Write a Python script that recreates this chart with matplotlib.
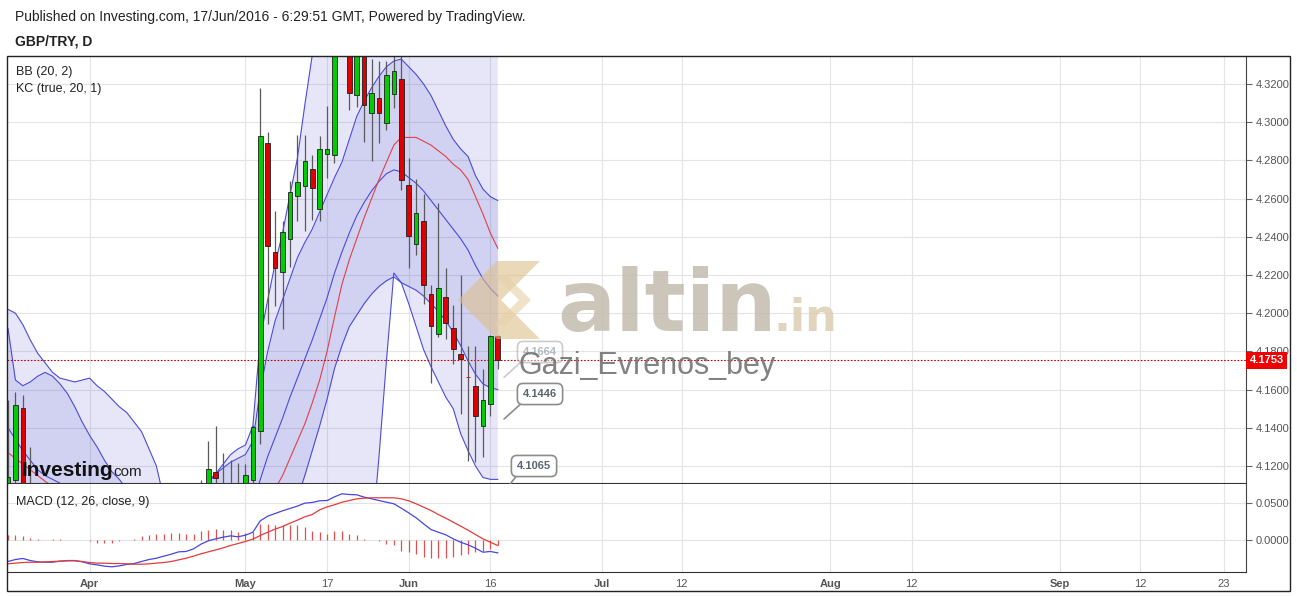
import numpy as np
import matplotlib.pyplot as plt
from matplotlib.patches import Rectangle, Polygon
from matplotlib.transforms import offset_copy

plt.rcParams['font.family'] = ['Liberation Sans', 'DejaVu Sans']

W, H = 1297, 596

# GBP/TRY daily bars, index 0 = 17 Mar 2016 ... 66 = 17 Jun 2016
opens = [4.105, 4.1127, 4.1502, 4.092, 4.100, 4.085, 4.095, 4.080, 4.070, 4.078,
         4.065, 4.060, 4.055, 4.045, 4.050, 4.040, 4.048, 4.055, 4.062, 4.070,
         4.068, 4.075, 4.080, 4.085, 4.090, 4.095, 4.098, 4.105, 4.117, 4.107,
         4.108, 4.104, 4.105, 4.1125, 4.1383, 4.2891, 4.2318, 4.2215, 4.2389, 4.2614,
         4.2666, 4.2755, 4.2546, 4.2834, 4.283, 4.345, 4.345, 4.314, 4.340, 4.3048,
         4.3127, 4.2996, 4.3148, 4.3226, 4.267, 4.2363, 4.2483, 4.2101, 4.1892, 4.2086,
         4.1924, 4.1784, 4.1667, 4.162, 4.141, 4.1525, 4.1881]
highs = [4.1546, 4.1589, 4.1572, 4.130, 4.104, 4.098, 4.100, 4.088, 4.085, 4.082,
         4.072, 4.068, 4.062, 4.058, 4.055, 4.052, 4.060, 4.066, 4.075, 4.076,
         4.080, 4.085, 4.090, 4.094, 4.098, 4.104, 4.1127, 4.1331, 4.141, 4.127,
         4.1232, 4.1215, 4.1212, 4.1415, 4.3179, 4.2949, 4.2534, 4.2482, 4.2694, 4.2935,
         4.2935, 4.283, 4.293, 4.3083, 4.350, 4.370, 4.352, 4.350, 4.345, 4.333,
         4.332, 4.3319, 4.336, 4.338, 4.2813, 4.270, 4.2625, 4.215, 4.2578, 4.2237,
         4.2042, 4.220, 4.1828, 4.183, 4.1706, 4.1885, 4.1885]
lows = [4.100, 4.108, 4.090, 4.085, 4.080, 4.078, 4.075, 4.065, 4.066, 4.060,
        4.055, 4.050, 4.040, 4.040, 4.035, 4.036, 4.044, 4.050, 4.058, 4.062,
        4.064, 4.070, 4.076, 4.080, 4.085, 4.090, 4.095, 4.100, 4.105, 4.100,
        4.098, 4.100, 4.103, 4.1105, 4.1313, 4.1941, 4.2037, 4.1915, 4.2244, 4.2482,
        4.2429, 4.2487, 4.2482, 4.2708, 4.2787, 4.338, 4.3066, 4.3081, 4.2897, 4.2795,
        4.289, 4.2961, 4.3075, 4.2647, 4.2238, 4.2307, 4.2046, 4.1636, 4.1875, 4.1863,
        4.1732, 4.1474, 4.1226, 4.122, 4.1249, 4.146, 4.171]
closes = [4.1142, 4.152, 4.095, 4.100, 4.085, 4.095, 4.080, 4.070, 4.078, 4.065,
          4.060, 4.055, 4.045, 4.050, 4.040, 4.048, 4.055, 4.062, 4.070, 4.068,
          4.075, 4.080, 4.085, 4.090, 4.095, 4.100, 4.104, 4.1183, 4.1135, 4.109,
          4.104, 4.106, 4.1153, 4.1406, 4.293, 4.2351, 4.2236, 4.2426, 4.2632, 4.2689,
          4.2797, 4.2654, 4.286, 4.286, 4.345, 4.360, 4.3153, 4.340, 4.3088, 4.3153,
          4.3048, 4.3245, 4.327, 4.2696, 4.2403, 4.2523, 4.2145, 4.1932, 4.2133, 4.195,
          4.1814, 4.1761, 4.1667, 4.146, 4.1546, 4.188, 4.1753]

# Bollinger Bands (20, 2)
bb_upper = [4.202, 4.200, 4.194, 4.186, 4.179, 4.174, 4.169, 4.166, 4.165, 4.164,
            4.165, 4.166, 4.162, 4.159, 4.155, 4.151, 4.148, 4.143, 4.138, 4.129,
            4.120, 4.103, 4.098, 4.098, 4.099, 4.102, 4.106, 4.111, 4.116, 4.121,
            4.126, 4.129, 4.131, 4.141, 4.187, 4.207, 4.226, 4.242, 4.262, 4.281,
            4.309, 4.335, 4.366, 4.390, 4.410, 4.430, 4.440, 4.445, 4.450, 4.440,
            4.415, 4.383, 4.355, 4.368, 4.379, 4.391, 4.399, 4.404, 4.406, 4.408,
            4.406, 4.413, 4.412, 4.402, 4.390, 4.371, 4.356]
bb_basis = [4.127, 4.124, 4.121, 4.118, 4.115, 4.112, 4.109, 4.106, 4.103, 4.100,
            4.097, 4.094, 4.091, 4.088, 4.085, 4.082, 4.079, 4.077, 4.075, 4.073,
            4.072, 4.071, 4.070, 4.069, 4.069, 4.070, 4.071, 4.073, 4.075, 4.077,
            4.079, 4.081, 4.083, 4.085, 4.095, 4.102, 4.108, 4.115, 4.124, 4.133,
            4.142, 4.153, 4.165, 4.180, 4.198, 4.215, 4.228, 4.239, 4.250, 4.260,
            4.270, 4.279, 4.288, 4.292, 4.292, 4.292, 4.290, 4.288, 4.285, 4.282,
            4.278, 4.275, 4.270, 4.261, 4.252, 4.242, 4.234]
bb_lower = [4.052, 4.049, 4.047, 4.045, 4.043, 4.040, 4.038, 4.036, 4.034, 4.032,
            4.030, 4.028, 4.027, 4.026, 4.025, 4.025, 4.026, 4.027, 4.028, 4.030,
            4.032, 4.034, 4.036, 4.040, 4.045, 4.050, 4.055, 4.060, 4.064, 4.066,
            4.068, 4.070, 4.071, 4.069, 4.020, 3.990, 3.970, 3.960, 3.955, 3.955,
            3.960, 3.965, 3.970, 3.980, 3.990, 4.000, 4.010, 4.030, 4.050, 4.080,
            4.125, 4.175, 4.221, 4.216, 4.205, 4.193, 4.181, 4.172, 4.164, 4.156,
            4.150, 4.137, 4.128, 4.120, 4.114, 4.113, 4.113]

# Keltner Channels (true, 20, 1)
kc_upper = [4.192, 4.165, 4.162, 4.164, 4.167, 4.169, 4.167, 4.163, 4.158, 4.151,
            4.143, 4.136, 4.130, 4.123, 4.117, 4.113, 4.108, 4.104, 4.100, 4.097,
            4.095, 4.095, 4.097, 4.099, 4.102, 4.105, 4.108, 4.112, 4.116, 4.119,
            4.122, 4.124, 4.126, 4.133, 4.160, 4.180, 4.196, 4.207, 4.218, 4.229,
            4.237, 4.244, 4.253, 4.262, 4.271, 4.279, 4.291, 4.303, 4.311, 4.318,
            4.324, 4.329, 4.332, 4.333, 4.329, 4.325, 4.320, 4.314, 4.306, 4.298,
            4.291, 4.286, 4.282, 4.272, 4.265, 4.261, 4.259]
kc_basis = [4.140, 4.134, 4.128, 4.123, 4.118, 4.115, 4.113, 4.111, 4.108, 4.105,
            4.102, 4.099, 4.096, 4.093, 4.090, 4.088, 4.086, 4.085, 4.084, 4.083,
            4.083, 4.083, 4.084, 4.085, 4.086, 4.087, 4.088, 4.090, 4.092, 4.093,
            4.094, 4.095, 4.096, 4.099, 4.113, 4.125, 4.135, 4.145, 4.156, 4.166,
            4.176, 4.186, 4.197, 4.208, 4.221, 4.232, 4.242, 4.251, 4.258, 4.264,
            4.269, 4.273, 4.275, 4.274, 4.271, 4.268, 4.264, 4.259, 4.254, 4.249,
            4.244, 4.239, 4.233, 4.225, 4.218, 4.213, 4.209]
kc_lower = [4.080, 4.090, 4.088, 4.085, 4.080, 4.075, 4.070, 4.066, 4.062, 4.058,
            4.055, 4.052, 4.050, 4.048, 4.047, 4.046, 4.046, 4.047, 4.048, 4.050,
            4.052, 4.054, 4.057, 4.060, 4.063, 4.066, 4.068, 4.070, 4.072, 4.074,
            4.075, 4.076, 4.077, 4.075, 4.070, 4.070, 4.075, 4.085, 4.094, 4.103,
            4.115, 4.128, 4.141, 4.155, 4.171, 4.183, 4.193, 4.199, 4.205, 4.210,
            4.214, 4.217, 4.219, 4.216, 4.214, 4.212, 4.209, 4.205, 4.201, 4.196,
            4.190, 4.183, 4.175, 4.168, 4.163, 4.161, 4.160]

# MACD (12, 26, close, 9)
macd_line = [-0.0301, -0.0274, -0.0260, -0.0288, -0.0306, -0.0311, -0.0311, -0.0297, -0.0288, -0.0288,
             -0.0306, -0.0333, -0.0347, -0.0365, -0.0374, -0.0361, -0.0342, -0.0329, -0.0301, -0.0274,
             -0.0256, -0.0228, -0.0201, -0.0169, -0.0164, -0.0128, -0.0064, -0.0018, 0.0009, 0.0032,
             0.0050, 0.0037, 0.0059, 0.0100, 0.0256, 0.0320, 0.0356, 0.0393, 0.0425, 0.0457,
             0.0498, 0.0507, 0.0530, 0.0534, 0.0584, 0.0626, 0.0616, 0.0612, 0.0580, 0.0557,
             0.0534, 0.0511, 0.0489, 0.0429, 0.0365, 0.0297, 0.0215, 0.0137, 0.0100, 0.0064,
             0.0009, -0.0037, -0.0073, -0.0119, -0.0174, -0.0164, -0.0183]
signal_line = [-0.0333, -0.0324, -0.0315, -0.0311, -0.0311, -0.0306, -0.0301, -0.0297, -0.0292, -0.0292,
               -0.0301, -0.0315, -0.0324, -0.0324, -0.0329, -0.0329, -0.0333, -0.0338, -0.0338, -0.0333,
               -0.0324, -0.0315, -0.0301, -0.0279, -0.0256, -0.0228, -0.0196, -0.0169, -0.0142, -0.0114,
               -0.0082, -0.0055, -0.0027, 0.0005, 0.0055, 0.0100, 0.0142, 0.0178, 0.0224, 0.0265,
               0.0311, 0.0342, 0.0406, 0.0447, 0.0475, 0.0511, 0.0534, 0.0557, 0.0566, 0.0571,
               0.0571, 0.0571, 0.0571, 0.0557, 0.0530, 0.0489, 0.0443, 0.0397, 0.0342, 0.0292,
               0.0237, 0.0183, 0.0128, 0.0068, 0.0009, -0.0037, -0.0082]
macd_hist = [0.0055, 0.0055, 0.0046, 0.0018, 0.0005, 0.0, 0.0005, 0.0005, 0.0, 0.0,
             -0.0009, -0.0018, -0.0046, -0.0046, -0.0046, -0.0018, 0.0, 0.0009, 0.0046, 0.0064,
             0.0073, 0.0082, 0.0091, 0.0091, 0.0082, 0.0082, 0.0110, 0.0128, 0.0137, 0.0128,
             0.0128, 0.0100, 0.0091, 0.0100, 0.0215, 0.0215, 0.0201, 0.0201, 0.0201, 0.0192,
             0.0174, 0.0123, 0.0096, 0.0082, 0.0110, 0.0110, 0.0073, 0.0055, 0.0009, -0.0005,
             -0.0027, -0.0055, -0.0082, -0.0155, -0.0174, -0.0205, -0.0233, -0.0247, -0.0256, -0.0251,
             -0.0242, -0.0219, -0.0201, -0.0174, -0.0164, -0.0128, -0.0082]

# x axis: bar slots, the empty future part runs one slot per calendar day
tick_pos = [11, 32, 43, 54, 65, 80.0, 90.8, 110.8, 121.8, 141.8, 152.6, 163.9]
tick_lbl = ['Apr', 'May', '17', 'Jun', '16', 'Jul', '12', 'Aug', '12', 'Sep', '12', '23']
months = ['Apr', 'May', 'Jun', 'Jul', 'Aug', 'Sep']

price_ticks = [4.12, 4.14, 4.16, 4.18, 4.20, 4.22, 4.24, 4.26, 4.28, 4.30, 4.32]
macd_ticks = [0.0, 0.05]
note_prices = [4.1664, 4.1446, 4.1065]


def box(l, t, r, b):  # pixel box -> figure fraction
    return [l / W, 1 - b / H, (r - l) / W, (b - t) / H]


fig = plt.figure(figsize=(W / 100, H / 100), dpi=100)
fig.patch.set_facecolor('white')

ax = fig.add_axes(box(7, 57, 1246, 483))
mx = fig.add_axes(box(7, 484, 1246, 572), sharex=ax)

x = np.arange(len(opens))
o, hi, lo, c = map(np.array, (opens, highs, lows, closes))

band_col = '#4b4bdc'
fill_col = '#5a5ad2'

# bands
ax.fill_between(x, bb_lower, bb_upper, color=fill_col, alpha=0.15, lw=0, zorder=1)
ax.fill_between(x, kc_lower, kc_upper, color=fill_col, alpha=0.15, lw=0, zorder=1)
for s in (bb_upper, bb_lower, kc_upper, kc_basis, kc_lower):
    ax.plot(x, s, color=band_col, lw=0.8, zorder=2)
ax.plot(x, bb_basis, color='#e0404a', lw=0.8, zorder=2)

# last price line
last = closes[-1]
ax.axhline(last, color='#c00000', lw=0.8, ls=(0, (1.5, 1.5)), zorder=2.5)

# candles
up = c > o
body_col = np.where(up, '#00cc00', '#e00000')
edge_col = np.where(c == o, '#e00000', '#1e1e1e')
ax.vlines(x, lo, hi, color='#5a5a5a', lw=0.9, zorder=3)
ax.bar(x, c - o, bottom=o, width=0.62, color=body_col, edgecolor=edge_col, lw=0.6, zorder=4)

ax.set_xlim(-0.135, 166.84)
ax.set_ylim(4.1111, 4.3341)
ax.set_xticks(tick_pos)
ax.tick_params(axis='x', length=0, labelbottom=False)
ax.yaxis.tick_right()
ax.set_yticks(price_ticks)
ax.set_yticklabels(['%.4f' % v for v in price_ticks])
ax.tick_params(axis='y', length=4, color='#666', labelsize=8, labelcolor='#555', pad=3)
ax.grid(True, color='#e4e4e4', lw=0.8)
ax.set_axisbelow(True)
for side in ('left', 'top'):
    ax.spines[side].set_visible(False)
ax.spines['right'].set_color('#444')
ax.spines['bottom'].set_color('#333')

tag_tr = offset_copy(ax.get_yaxis_transform(), fig=fig, x=3.5, y=0, units='dots')
ax.text(1.0, last, '%.4f' % last, transform=tag_tr, ha='left', va='center',
        color='white', fontsize=8, fontweight='bold', zorder=6, clip_on=False,
        bbox=dict(boxstyle='square,pad=0.32', fc='#f00000', ec='none'))

ax.text(0.007, 0.965, 'BB (20, 2)', transform=ax.transAxes, fontsize=9, color='#222', va='center')
ax.text(0.007, 0.925, 'KC (true, 20, 1)', transform=ax.transAxes, fontsize=9, color='#222', va='center')

# MACD panel
mx.vlines(x, 0, macd_hist, color='#e05050', lw=0.9, zorder=2)
mx.plot(x, macd_line, color='#4646e0', lw=0.9, zorder=3)
mx.plot(x, signal_line, color='#e23c3c', lw=0.9, zorder=3)
mx.set_ylim(-0.0445, 0.076)
mx.yaxis.tick_right()
mx.set_yticks(macd_ticks)
mx.set_yticklabels(['%.4f' % v for v in macd_ticks])
mx.tick_params(axis='y', length=4, color='#666', labelsize=8, labelcolor='#555', pad=3)
mx.set_xticks(tick_pos)
mx.set_xticklabels(tick_lbl)
mx.tick_params(axis='x', length=0, labelsize=8, labelcolor='#555', pad=5)
for t in mx.get_xticklabels():
    if t.get_text() in months:
        t.set_fontweight('bold')
mx.grid(True, color='#e4e4e4', lw=0.8)
mx.set_axisbelow(True)
for side in ('left', 'top'):
    mx.spines[side].set_visible(False)
mx.spines['right'].set_color('#444')
mx.spines['bottom'].set_color('#333')
mx.text(0.007, 0.8, 'MACD (12, 26, close, 9)', transform=mx.transAxes, fontsize=9, color='#222', va='center')

# price notes next to the last bars
note_box = [(540, 352), (540, 394), (534, 466)]
for k, (p, (bx, by)) in enumerate(zip(note_prices, note_box)):
    a = 0.45 if k == 0 else 1.0
    ax.annotate('%.4f' % p, xy=(66.85, p), xytext=(bx, H - by), textcoords='figure pixels',
                ha='center', va='center', fontsize=8, fontweight='bold', color='#5a6570', alpha=a,
                annotation_clip=False, zorder=7,
                bbox=dict(boxstyle='round,pad=0.5', fc='white', ec='#8c8c8c', lw=1.2, alpha=a),
                arrowprops=dict(arrowstyle='-', color='#8c8c8c', lw=1.2, alpha=a,
                                shrinkA=0, shrinkB=0, relpos=(0.1, 0.0)))

# watermarks / logos in pixel space
ov = fig.add_axes([0, 0, 1, 1], zorder=10)
ov.set_xlim(0, W)
ov.set_ylim(H, 0)
ov.axis('off')
ov.patch.set_alpha(0)

ov.add_patch(Polygon([(458, 300), (497, 261), (540, 261), (501, 300), (540, 339), (497, 339)],
                     closed=True, fc='#dcc08a', ec='none', alpha=0.6))
ov.add_patch(Polygon([(506, 275), (531, 300), (506, 325), (494, 325), (519, 300), (494, 275)],
                     closed=True, fc='#e6d0a6', ec='none', alpha=0.6))
ov.text(557, 331, 'altin', fontsize=62, fontweight='bold', family='DejaVu Sans',
        color='#c4bcae', alpha=0.85, va='baseline')
ov.text(773, 331, '.in', fontsize=32, fontweight='bold', family='DejaVu Sans',
        color='#dccfb2', alpha=0.85, va='baseline')
ov.text(519, 366, 'Gazi_Evrenos_bey', fontsize=22, color='#6c6c6c', alpha=0.85, va='center')

ov.text(22, 476, 'Investing', fontsize=15, fontweight='bold', color='#111', va='baseline')
ov.text(113, 476, 'com', fontsize=11, color='#222', va='baseline')

fig.text(15 / W, 1 - 17 / H, 'Published on Investing.com, 17/Jun/2016 - 6:29:51 GMT, Powered by TradingView.',
         fontsize=10, color='#222', va='center')
fig.text(15 / W, 1 - 41 / H, 'GBP/TRY, D', fontsize=10, fontweight='bold', color='#222', va='center')

fig.add_artist(Rectangle((7 / W, 1 - 591 / H), (1290 - 7) / W, (591 - 56) / H,
                         transform=fig.transFigure, fill=False, ec='#222', lw=1.0))

fig.savefig('out.png', dpi=100)
